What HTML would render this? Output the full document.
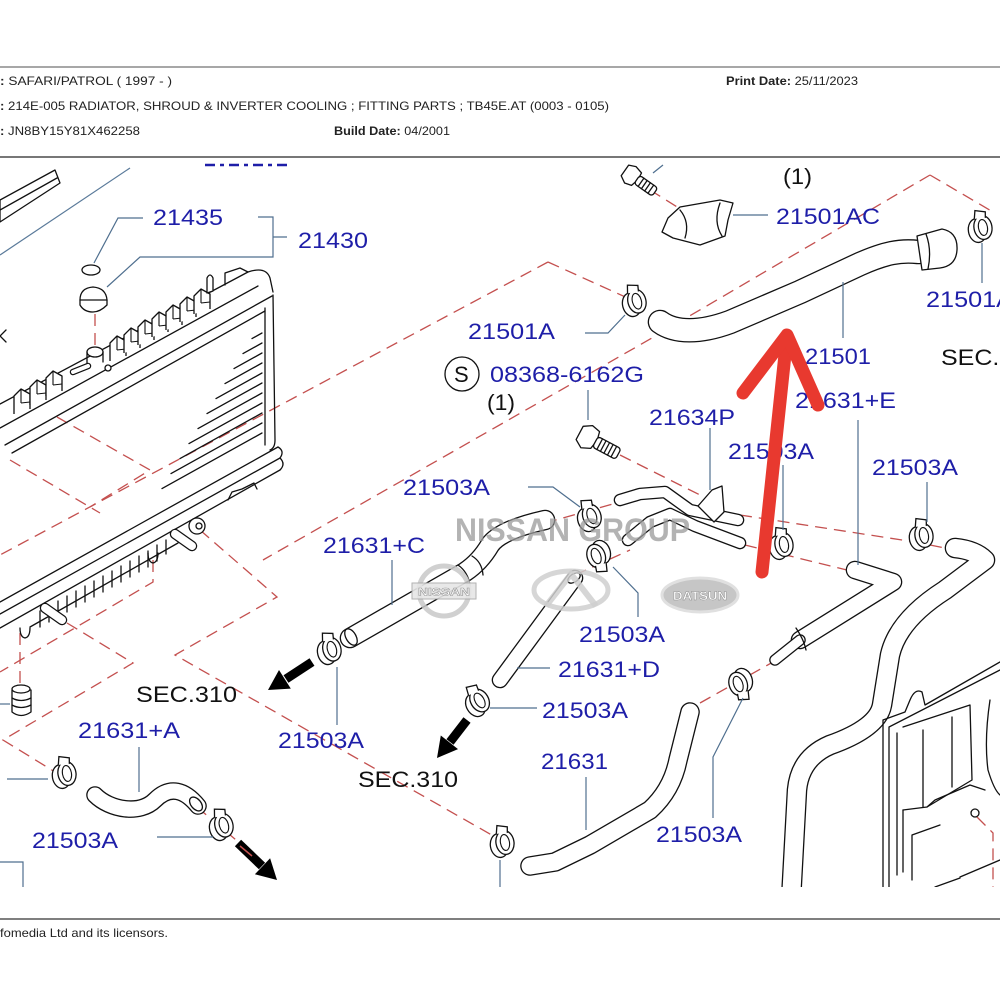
<!DOCTYPE html>
<html><head><meta charset="utf-8"><style>
html,body{margin:0;padding:0;background:#fff;}
svg{display:block;}
.h{font-family:"Liberation Sans",Arial,sans-serif;font-size:12px;fill:#222;}
.lb{font-family:"Liberation Sans",Arial,sans-serif;font-size:22px;fill:#1e1ea8;}
.bk{font-family:"Liberation Sans",Arial,sans-serif;font-size:22px;fill:#111;}
.ln{fill:none;stroke:#111;stroke-width:1.3;stroke-linejoin:round;stroke-linecap:round;}
.lw{fill:#fff;stroke:#111;stroke-width:1.3;stroke-linejoin:round;stroke-linecap:round;}
.ld{fill:none;stroke:#4f6f8f;stroke-width:1.2;}
.ds{fill:none;stroke:#c4504f;stroke-width:1.3;stroke-dasharray:12 7;}
.to{fill:none;stroke:#111;stroke-linecap:round;stroke-linejoin:round;}
.ti{fill:none;stroke:#fff;stroke-linecap:round;stroke-linejoin:round;}
</style></head><body>
<svg xmlns="http://www.w3.org/2000/svg" xmlns:xlink="http://www.w3.org/1999/xlink" width="1000" height="1000" viewBox="0 0 1000 1000">
<defs>
<clipPath id="cp"><rect x="0" y="159" width="1000" height="728"/></clipPath>
<g id="cl">
<ellipse cx="-3" cy="2" rx="9" ry="12" fill="#fff" stroke="#111" stroke-width="1.3"/>
<ellipse cx="3" cy="0" rx="9" ry="12" fill="#fff" stroke="#111" stroke-width="1.3"/>
<ellipse cx="3" cy="0" rx="4.5" ry="8" fill="none" stroke="#111" stroke-width="1.1"/>
<path d="M-4,-10 L-2,-18 L8,-15 L7,-9" fill="#fff" stroke="#111" stroke-width="1.3"/>
</g>
<g id="fin">
<path d="M0,0 v-18 l7,-7 l9,5 v15" fill="#fff" stroke="#111" stroke-width="1.3" stroke-linejoin="round"/>
<path d="M7,-25 v14 M7,-11 l9,-1" fill="none" stroke="#111" stroke-width="1.1"/>
</g>
</defs>
<rect width="1000" height="1000" fill="#fff"/>

<!-- header -->
<line x1="0" y1="67" x2="1000" y2="67" stroke="#8a8a8a" stroke-width="1.5"/>
<text class="h" x="0" y="85" textLength="172" lengthAdjust="spacingAndGlyphs"><tspan font-weight="bold">:</tspan> SAFARI/PATROL ( 1997 -  )</text>
<text class="h" x="726" y="85" textLength="132" lengthAdjust="spacingAndGlyphs"><tspan font-weight="bold">Print Date:</tspan> 25/11/2023</text>
<text class="h" x="0" y="110" textLength="609" lengthAdjust="spacingAndGlyphs"><tspan font-weight="bold">:</tspan> 214E-005 RADIATOR, SHROUD &amp; INVERTER COOLING ; FITTING PARTS ; TB45E.AT (0003 - 0105)</text>
<text class="h" x="0" y="135" textLength="140" lengthAdjust="spacingAndGlyphs"><tspan font-weight="bold">:</tspan> JN8BY15Y81X462258</text>
<text class="h" x="334" y="135" textLength="116" lengthAdjust="spacingAndGlyphs"><tspan font-weight="bold">Build Date:</tspan> 04/2001</text>
<line x1="0" y1="157" x2="1000" y2="157" stroke="#777" stroke-width="2"/>

<!-- footer -->
<line x1="0" y1="919" x2="1000" y2="919" stroke="#555" stroke-width="1.5"/>
<text class="h" x="0" y="937" textLength="168" lengthAdjust="spacingAndGlyphs">fomedia Ltd and its licensors.</text>

<g clip-path="url(#cp)">
<!-- dashed phantom lines -->
<path class="ds" d="M548,262 L632,300"/>
<path class="ds" d="M548,262 L0,555"/>
<path class="ds" d="M930,175 L652,338 L263,560"/>
<path class="ds" d="M930,175 L993,212"/>
<path class="ds" d="M57,417 L150,470 L90,507"/>
<path class="ds" d="M10,460 L100,513"/>
<path class="ds" d="M200,530 L277,597 L175,655 L497,838"/>
<path class="ds" d="M153,560 L153,582 L0,672"/>
<path class="ds" d="M20,633 L20,683"/>
<path class="ds" d="M67,623 L133,663 L3,740 L55,772"/>
<path class="ds" d="M197,807 L262,862"/>
<path class="ds" d="M620,455 L700,495"/>
<path class="ds" d="M740,515 L915,542"/>
<path class="ds" d="M545,523 L620,502"/>
<path class="ds" d="M575,575 L630,550"/>
<path class="ds" d="M745,545 L855,572"/>
<path class="ds" d="M930,545 L955,550"/>
<path class="ds" d="M700,703 L773,662"/>
<path class="ds" d="M977,817 L993,833 L993,887"/>
<path class="ds" d="M650,190 L690,215"/>

<!-- top-left bar and line -->
<path class="lw" d="M0,200 L55,170 L60,183 L0,222 Z"/>
<path class="ln" d="M0,210 L57,178"/>
<line x1="130" y1="168" x2="0" y2="255" stroke="#5a7a9a" stroke-width="1.2"/>
<line x1="205" y1="165" x2="290" y2="165" stroke="#1e1ea8" stroke-width="2.5" stroke-dasharray="10 5 4 5"/>
<path class="ln" d="M6,330 L0,336 L6,342"/>

<!-- radiator top tank -->
<path class="ln" d="M0,404 L248,272 Q266,266 270,278 L273,292"/>
<path class="ln" d="M0,428 L258,286"/>
<path class="ln" d="M5,445 L272,296"/>
<path class="ln" d="M12,453 L265,311"/>
<use xlink:href="#fin" transform="translate(14,414)"/>
<use xlink:href="#fin" transform="translate(30,405)"/>
<use xlink:href="#fin" transform="translate(46,396)"/>
<use xlink:href="#fin" transform="translate(110,361)"/>
<use xlink:href="#fin" transform="translate(124,353)"/>
<use xlink:href="#fin" transform="translate(138,345)"/>
<use xlink:href="#fin" transform="translate(152,337)"/>
<use xlink:href="#fin" transform="translate(166,330)"/>
<use xlink:href="#fin" transform="translate(180,322)"/>
<use xlink:href="#fin" transform="translate(194,314)"/>
<path class="lw" d="M207,293 L207,278 Q210,272 213,278 L213,291 Z"/>
<path class="ln" d="M225,285 v-12 l15,-5 l8,4"/>
<!-- filler neck -->
<ellipse cx="95" cy="352" rx="8" ry="5" class="lw"/>
<path class="ln" d="M87,352 L87,364 M103,352 L103,362"/>
<path class="to" stroke-width="6.5" d="M73,372 L88,366"/><path class="ti" stroke-width="4" d="M73,372 L88,366"/>
<circle cx="108" cy="368" r="3" class="lw"/>
<!-- cap & seal -->
<ellipse cx="91" cy="270" rx="9" ry="5" class="lw"/>
<path class="lw" d="M80,300 Q80,288 93,287 Q106,288 107,300 L107,305 Q100,312 93,312 Q84,312 80,305 Z"/>
<path class="ln" d="M80,300 L107,300"/>
<path class="ds" d="M95,314 L95,345"/>

<!-- side tank -->
<path class="ln" d="M265,308 L265,445"/>
<path class="ln" d="M273,295 L275,440 Q275,448 270,450"/>
<!-- core hatch -->
<g class="ln">
<path d="M252,338.6 L262,333"/><path d="M243,353.6 L262,343"/><path d="M234,368.6 L262,353"/>
<path d="M225,383.6 L262,363"/><path d="M216,398.6 L262,373"/><path d="M207,413.6 L262,383"/>
<path d="M198,428.6 L262,393"/><path d="M189,443.6 L262,403"/><path d="M180,458.6 L262,413"/>
<path d="M171,473.6 L262,423"/><path d="M162,488.6 L262,433"/>
</g>
<!-- bottom tank -->
<path class="ln" d="M278,447 L0,602"/>
<path class="ln" d="M280,458 L0,614"/>
<path class="ln" d="M280,470 L0,628"/>
<path class="ln" d="M278,447 Q285,451 280,458 Q286,464 280,470"/>
<path class="ln" d="M178,543 L30,627"/>
<g class="ln">
<path d="M40,611 v16"/><path d="M49,606 v16"/><path d="M58,601 v16"/><path d="M67,596 v16"/><path d="M76,591 v16"/>
<path d="M85,586 v16"/><path d="M94,581 v16"/><path d="M103,576 v16"/><path d="M112,571 v16"/><path d="M121,566 v16"/>
<path d="M130,561 v16"/><path d="M139,556 v16"/><path d="M148,551 v16"/><path d="M157,545 v16"/><path d="M166,540 v14"/>
<path d="M228,500 l4,-8 l10,-3 l12,-6 l3,6"/>
<path d="M148,553 q0,9 5,10 q5,-1 5,-10"/>
<path d="M20,628 q0,9 5,10 q5,-1 5,-10"/>
</g>
<circle cx="197" cy="526" r="8" class="lw"/><circle cx="199" cy="526" r="3" class="ln"/>
<path class="to" stroke-width="10.5" d="M175,534 L192,546"/><path class="ti" stroke-width="8" d="M175,534 L192,546"/>
<path class="to" stroke-width="10.5" d="M45,608 L62,620"/><path class="ti" stroke-width="8" d="M45,608 L62,620"/>
<!-- bump stop -->
<path class="lw" d="M12,690 L12,712 Q21,719 31,712 L31,690 Z"/>
<ellipse cx="21" cy="689" rx="9" ry="4" class="lw"/>
<path class="ln" d="M12,698 Q21,703 31,698 M12,705 Q21,710 31,705"/>

<!-- hose 21501 -->
<path class="to" stroke-width="24.6" d="M660,322 C675,333 700,333 730,322 L800,292 L860,264 C885,253 900,250 918,252"/>
<path class="ti" stroke-width="22" d="M660,322 C675,333 700,333 730,322 L800,292 L860,264 C885,253 900,250 918,252"/>
<path class="lw" d="M917,236 L942,229 Q958,232 957,250 Q956,266 940,268 L922,270 Z"/>
<path class="ln" d="M926,234 Q932,250 928,269"/>
<!-- bracket 21501AC -->
<path class="lw" d="M662,232 L668,218 L680,207 L720,200 L733,203 L728,220 L725,236 L700,245 L673,238 Z"/>
<path class="ln" d="M680,210 Q690,222 685,238 M720,203 Q713,222 722,236"/>
<!-- top bolt -->
<g transform="translate(632,176) rotate(35)">
<path class="lw" d="M-9,-7 L-2,-10 L6,-8 L7,0 L5,8 L-2,10 L-9,6 Z"/>
<rect x="6" y="-5" width="22" height="10" rx="3" class="lw"/>
<path class="ln" d="M11,-5 v10 M15,-5 v10 M19,-5 v10 M23,-5 v10"/>
</g>

<!-- pipes 21634P -->
<path class="to" stroke-width="12.6" d="M620,500 L640,494 L665,492 L690,510 L738,520"/>
<path class="ti" stroke-width="10" d="M620,500 L640,494 L665,492 L690,510 L738,520"/>
<path class="to" stroke-width="12.6" d="M628,540 L650,522 L670,514 L695,526 L740,543"/>
<path class="ti" stroke-width="10" d="M628,540 L650,522 L670,514 L695,526 L740,543"/>
<path class="lw" d="M698,506 L712,490 L722,486 L724,512 L714,522 Z"/>
<!-- bolt 08368 -->
<g transform="translate(590,439) rotate(28)">
<path class="lw" d="M-12,-8 L-4,-13 L5,-11 L7,-2 L5,8 L-4,12 L-12,7 Z"/>
<rect x="6" y="-6" width="26" height="12" rx="3" class="lw"/>
<path class="ln" d="M11,-6 v12 M15,-6 v12 M19,-6 v12 M23,-6 v12 M27,-6 v12"/>
</g>

<!-- hose 21631+C -->
<path class="to" stroke-width="20.6" d="M350,638 L465,572 Q480,562 490,545 Q500,530 545,520"/>
<path class="ti" stroke-width="18" d="M350,638 L465,572 Q480,562 490,545 Q500,530 545,520"/>
<ellipse cx="351" cy="637" rx="5" ry="9" transform="rotate(-30 351 637)" class="ln"/>
<path class="ln" d="M458,565 Q468,572 470,585 M472,556 Q482,562 483,575"/>
<!-- hose 21631+D -->
<path class="to" stroke-width="16.6" d="M575,578 L500,680"/>
<path class="ti" stroke-width="14" d="M575,578 L500,680"/>
<ellipse cx="574" cy="578" rx="7" ry="4" transform="rotate(-35 574 578)" class="ln"/>
<!-- hose 21631+A -->
<path class="to" stroke-width="17.6" d="M95,795 C110,810 140,815 155,800 S185,790 198,806"/>
<path class="ti" stroke-width="15" d="M95,795 C110,810 140,815 155,800 S185,790 198,806"/>
<ellipse cx="196" cy="804" rx="5" ry="8" transform="rotate(-40 196 804)" class="ln"/>
<!-- hose 21631 -->
<path class="to" stroke-width="19.6" d="M530,866 L555,862 L590,845 L650,810 Q672,790 678,760 L690,712"/>
<path class="ti" stroke-width="17" d="M530,866 L555,862 L590,845 L650,810 Q672,790 678,760 L690,712"/>
<!-- hose 21631+E -->
<path class="to" stroke-width="18.6" d="M855,570 L893,582 L800,640"/>
<path class="ti" stroke-width="16" d="M855,570 L893,582 L800,640"/>
<path class="to" stroke-width="11.6" d="M800,640 L775,660"/>
<path class="ti" stroke-width="9" d="M800,640 L775,660"/>
<path class="ln" d="M796,628 Q804,640 806,650"/>
<!-- right big hose -->
<path class="to" stroke-width="20.6" d="M955,548 Q975,550 985,560 L945,590 Q898,620 890,655 L882,705 Q878,728 830,745 Q800,758 797,790 L791,900"/>
<path class="ti" stroke-width="18" d="M955,548 Q975,550 985,560 L945,590 Q898,620 890,655 L882,705 Q878,728 830,745 Q800,758 797,790 L791,900"/>

<!-- fan shroud -->
<g class="ln">
<path d="M883,890 L883,720 L905,712 L910,700 Q915,688 922,692 L925,705 L1000,662"/>
<path d="M889,890 L889,727 L1000,670"/>
<path d="M897,875 L897,733"/>
<path d="M903,727 L970,705 L972,780 L927,807 L903,810"/>
<path d="M923,730 L923,807"/>
<path d="M952,717 L952,787"/>
<path d="M903,810 L903,872"/>
<path d="M927,807 L935,800 L970,785 L985,790"/>
<path d="M990,700 Q984,740 988,770 Q994,790 1000,795"/>
<path d="M960,877 L1000,860 M935,887 L960,878"/>
<path d="M912,835 L912,880 M912,835 L940,825"/>
</g>
<circle cx="975" cy="813" r="4" class="ln"/>

<!-- clamps -->
<use xlink:href="#cl" transform="translate(634,302) rotate(-15)"/>
<use xlink:href="#cl" transform="translate(980,228) rotate(-10)"/>
<use xlink:href="#cl" transform="translate(589,517) rotate(-20)"/>
<use xlink:href="#cl" transform="translate(599,555) rotate(160)"/>
<use xlink:href="#cl" transform="translate(329,650) rotate(-15)"/>
<use xlink:href="#cl" transform="translate(477,702) rotate(-30)"/>
<use xlink:href="#cl" transform="translate(64,774) rotate(-10)"/>
<use xlink:href="#cl" transform="translate(221,826) rotate(-15)"/>
<use xlink:href="#cl" transform="translate(502,843) rotate(-10)"/>
<use xlink:href="#cl" transform="translate(741,683) rotate(160)"/>
<use xlink:href="#cl" transform="translate(781,545) rotate(-10)"/>
<use xlink:href="#cl" transform="translate(921,536) rotate(-10)"/>

<!-- leader lines -->
<g class="ld">
<path d="M143,218 L118,218 L94,263"/>
<path d="M258,217 L273,217 L273,257 L140,257 L107,287 M273,237 L287,237"/>
<path d="M733,215 L768,215"/>
<path d="M653,173 L663,165"/>
<path d="M585,333 L608,333 L625,315"/>
<path d="M843,282 L843,338"/>
<path d="M982,243 L982,283"/>
<path d="M588,390 L588,420"/>
<path d="M710,428 L710,490"/>
<path d="M858,420 L858,565"/>
<path d="M783,465 L783,530"/>
<path d="M927,482 L927,522"/>
<path d="M528,487 L553,487 L580,507"/>
<path d="M613,567 L638,593 L638,617"/>
<path d="M392,560 L392,605"/>
<path d="M337,667 L337,725"/>
<path d="M517,668 L550,668"/>
<path d="M490,708 L537,708"/>
<path d="M586,777 L586,830"/>
<path d="M743,698 L713,757 L713,818"/>
<path d="M500,860 L500,890"/>
<path d="M139,747 L139,792"/>
<path d="M7,779 L48,779"/>
<path d="M157,837 L213,837"/>
<path d="M0,862 L23,862 L23,890"/>
<path d="M0,704 L10,704"/>
</g>

<!-- logos / watermark -->
<circle cx="444" cy="591" r="25" fill="none" stroke="#c8c8c8" stroke-width="5" opacity="0.85"/>
<rect x="412" y="583" width="64" height="16" fill="#e6e6e6" stroke="#aaa" stroke-width="1" opacity="0.9"/>
<text x="418" y="595.5" font-family="Liberation Sans,Arial,sans-serif" font-size="11" font-weight="bold" fill="#fff" stroke="#999" stroke-width="0.6" textLength="52" lengthAdjust="spacingAndGlyphs">NISSAN</text>
<ellipse cx="571" cy="590" rx="37" ry="19" fill="none" stroke="#cfcfcf" stroke-width="5" opacity="0.85"/>
<path d="M546,606 L571,574 L596,606" fill="none" stroke="#cfcfcf" stroke-width="6" opacity="0.85"/>
<ellipse cx="700" cy="595" rx="38" ry="17" fill="#c6c6c6" stroke="#e0e0e0" stroke-width="3"/>
<text x="673" y="600" font-family="Liberation Sans,Arial,sans-serif" font-size="12" font-weight="bold" fill="#fff" stroke="#888" stroke-width="0.4" textLength="54" lengthAdjust="spacingAndGlyphs">DATSUN</text>
<text x="455" y="541" font-family="Liberation Sans,Arial,sans-serif" font-size="32" font-weight="bold" fill="#9a9a9a" opacity="0.75" textLength="235" lengthAdjust="spacingAndGlyphs">NISSAN GROUP</text>

<!-- labels -->
<text class="lb" x="153" y="225" textLength="70" lengthAdjust="spacingAndGlyphs">21435</text>
<text class="lb" x="298" y="248" textLength="70" lengthAdjust="spacingAndGlyphs">21430</text>
<text class="lb" x="776" y="224" textLength="104" lengthAdjust="spacingAndGlyphs">21501AC</text>
<text class="bk" x="783" y="184" font-size="20" textLength="29" lengthAdjust="spacingAndGlyphs">(1)</text>
<text class="lb" x="468" y="339" textLength="87" lengthAdjust="spacingAndGlyphs">21501A</text>
<text class="lb" x="805" y="364" textLength="66" lengthAdjust="spacingAndGlyphs">21501</text>
<text class="lb" x="926" y="307" textLength="87" lengthAdjust="spacingAndGlyphs">21501A</text>
<text class="bk" x="941" y="365" textLength="100" lengthAdjust="spacingAndGlyphs">SEC.310</text>
<circle cx="462" cy="374" r="17" fill="none" stroke="#111" stroke-width="1.3"/>
<text class="bk" x="454" y="382">S</text>
<text class="lb" x="490" y="382" textLength="154" lengthAdjust="spacingAndGlyphs">08368-6162G</text>
<text class="bk" x="487" y="410" font-size="20" textLength="28" lengthAdjust="spacingAndGlyphs">(1)</text>
<text class="lb" x="649" y="425" textLength="86" lengthAdjust="spacingAndGlyphs">21634P</text>
<text class="lb" x="795" y="408" textLength="101" lengthAdjust="spacingAndGlyphs">21631+E</text>
<text class="lb" x="728" y="459" textLength="86" lengthAdjust="spacingAndGlyphs">21503A</text>
<text class="lb" x="872" y="475" textLength="86" lengthAdjust="spacingAndGlyphs">21503A</text>
<text class="lb" x="403" y="495" textLength="87" lengthAdjust="spacingAndGlyphs">21503A</text>
<text class="lb" x="323" y="553" textLength="102" lengthAdjust="spacingAndGlyphs">21631+C</text>
<text class="lb" x="579" y="642" textLength="86" lengthAdjust="spacingAndGlyphs">21503A</text>
<text class="lb" x="558" y="677" textLength="102" lengthAdjust="spacingAndGlyphs">21631+D</text>
<text class="lb" x="542" y="718" textLength="86" lengthAdjust="spacingAndGlyphs">21503A</text>
<text class="bk" x="136" y="702" textLength="101" lengthAdjust="spacingAndGlyphs">SEC.310</text>
<text class="lb" x="78" y="738" textLength="102" lengthAdjust="spacingAndGlyphs">21631+A</text>
<text class="lb" x="278" y="748" textLength="86" lengthAdjust="spacingAndGlyphs">21503A</text>
<text class="bk" x="358" y="787" textLength="100" lengthAdjust="spacingAndGlyphs">SEC.310</text>
<text class="lb" x="541" y="769" textLength="67" lengthAdjust="spacingAndGlyphs">21631</text>
<text class="lb" x="32" y="848" textLength="86" lengthAdjust="spacingAndGlyphs">21503A</text>
<text class="lb" x="656" y="842" textLength="86" lengthAdjust="spacingAndGlyphs">21503A</text>

<!-- black SEC arrows -->
<line x1="312" y1="662" x2="286" y2="679" stroke="#000" stroke-width="9"/>
<polygon points="268,690 290.8,688.6 279,670" fill="#000"/>
<line x1="467" y1="720" x2="450" y2="742" stroke="#000" stroke-width="9"/>
<polygon points="437,758 458,749.1 440.8,735.5" fill="#000"/>
<line x1="238" y1="843" x2="262" y2="866" stroke="#000" stroke-width="9"/>
<polygon points="277,880 254.9,874.2 270.1,858.2" fill="#000"/>
<path d="M240,846 L252,856" stroke="#c4504f" stroke-width="1.5"/>

<!-- red annotation arrow -->
<path d="M762,572 L786,345" fill="none" stroke="#e8392f" stroke-width="13" stroke-linecap="round"/>
<path d="M743,393 L787,335 L818,405" fill="none" stroke="#e8392f" stroke-width="13" stroke-linecap="round" stroke-linejoin="round"/>
</g>
</svg>
</body></html>
